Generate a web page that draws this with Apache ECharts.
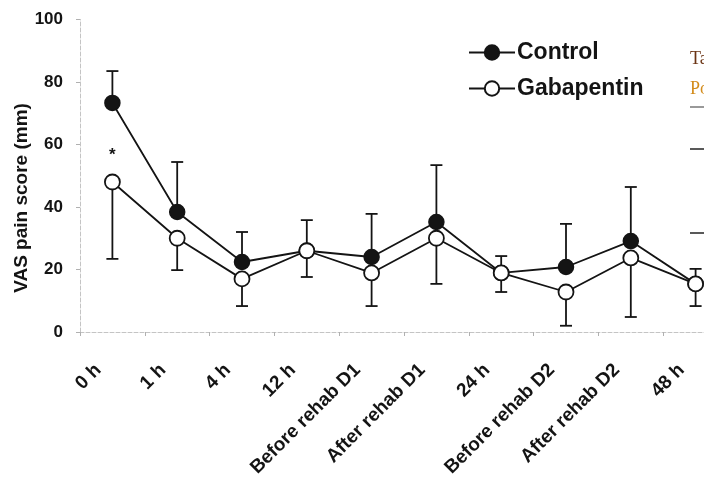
<!DOCTYPE html>
<html>
<head>
<meta charset="utf-8">
<script src="https://cdn.jsdelivr.net/npm/echarts@6/dist/echarts.min.js"></script>
<style>
  html, body { margin: 0; padding: 0; background: #fff; }
  #chart { width: 704px; height: 481px; }
</style>
</head>
<body>
<div id="chart"></div>
<script>
// Time points of VAS assessment
const categories = ['0 h', '1 h', '4 h', '12 h', 'Before rehab D1', 'After rehab D1',
                    '24 h', 'Before rehab D2', 'After rehab D2', '48 h'];

// Mean VAS pain score (mm)
const controlMean = [73.3, 38.4, 22.4, 26, 24, 35.2, 18.9, 20.8, 29.1, 15.4];
const gabapentinMean = [48, 30, 17, 26, 18.9, 30, 18.9, 12.8, 23.7, 15.4];

// Error bar ends: upper whisker for Control, lower whisker for Gabapentin
const controlUpper = [83.5, 54.4, 32, 35.8, 37.8, 53.4, 24.3, 34.6, 46.4, 20.2];
const gabapentinLower = [23.4, 19.8, 8.3, 17.6, 8.3, 15.4, 12.8, 2, 4.8, 8.3];

// Y axis ticks
const yTicks = [0, 20, 40, 60, 80, 100];

const INK = '#141414';
const FONT = '"Liberation Sans", Arial, sans-serif';

function whiskerData(mean, end) {
  return mean.map((m, i) => [i, m, end[i]]);
}

function renderWhisker(params, api) {
  const x = api.value(0);
  const p0 = api.coord([x, api.value(1)]);
  const p1 = api.coord([x, api.value(2)]);
  const half = 6;
  return {
    type: 'group',
    children: [
      { type: 'line', shape: { x1: p0[0], y1: p0[1], x2: p1[0], y2: p1[1] },
        style: { stroke: INK, lineWidth: 1.8 } },
      { type: 'line', shape: { x1: p1[0] - half, y1: p1[1], x2: p1[0] + half, y2: p1[1] },
        style: { stroke: INK, lineWidth: 1.8 } }
    ]
  };
}

const chart = echarts.init(document.getElementById('chart'), null, { renderer: 'canvas' });

const gabaData = gabapentinMean.map((v, i) => i === 0
  ? { value: v, label: { show: true, formatter: '*', position: 'top', distance: 10,
      fontSize: 17, fontWeight: 'bold', color: INK, fontFamily: FONT } }
  : v);

chart.setOption({
  animation: false,
  backgroundColor: '#fff',
  grid: { left: 80, top: 19.5, width: 648, height: 312.5, outerBoundsMode: 'none', containLabel: false },
  legend: {
    orient: 'vertical',
    left: 463,
    top: 36,
    itemWidth: 46,
    itemHeight: 18,
    itemGap: 13,
    textStyle: { fontSize: 23, fontWeight: 'bold', color: INK, fontFamily: FONT, padding: [0, 0, 0, -3] },
    data: ['Control', 'Gabapentin']
  },
  xAxis: {
    type: 'category',
    data: categories,
    boundaryGap: true,
    axisLine: { lineStyle: { color: '#c4c4c4', width: 1, type: 'dashed' } },
    axisTick: { show: true, length: 4, lineStyle: { color: '#b0b0b0' } },
    axisLabel: {
      interval: 0, rotate: 45, margin: 21,
      padding: [0, 20, 0, 0],
      fontSize: 19, fontWeight: 'bold', color: INK, fontFamily: FONT
    }
  },
  yAxis: {
    type: 'value',
    min: yTicks[0],
    max: yTicks[yTicks.length - 1],
    interval: yTicks[1] - yTicks[0],
    splitLine: { show: false },
    axisLine: { show: true, lineStyle: { color: '#c4c4c4', width: 1, type: 'dashed' } },
    axisTick: { show: true, length: 4, lineStyle: { color: '#b0b0b0' } },
    axisLabel: { margin: 17, fontSize: 17, fontWeight: 'bold', color: INK, fontFamily: FONT }
  },
  series: [
    {
      type: 'custom', name: 'Control SD', renderItem: renderWhisker,
      data: whiskerData(controlMean, controlUpper), z: 1, silent: true,
      encode: { x: 0, y: [1, 2] }
    },
    {
      type: 'custom', name: 'Gabapentin SD', renderItem: renderWhisker,
      data: whiskerData(gabapentinMean, gabapentinLower), z: 1, silent: true,
      encode: { x: 0, y: [1, 2] }
    },
    {
      name: 'Control', type: 'line', data: controlMean, z: 3,
      symbol: 'circle', symbolSize: 15,
      lineStyle: { color: INK, width: 1.8 },
      itemStyle: { color: INK, borderColor: INK, borderWidth: 1.5 }
    },
    {
      name: 'Gabapentin', type: 'line', data: gabaData, z: 4,
      symbol: 'circle', symbolSize: 15,
      lineStyle: { color: INK, width: 1.8 },
      itemStyle: { color: '#fff', borderColor: INK, borderWidth: 1.8 }
    }
  ],
  graphic: [
    {
      type: 'text', x: 22, y: 198, rotation: Math.PI / 2,
      style: { text: 'VAS pain score (mm)', fontSize: 19, fontWeight: 'bold',
               fontFamily: FONT, fill: INK, align: 'center', verticalAlign: 'middle' }
    },
    {
      type: 'text', x: 690, y: 50,
      style: { text: 'Ta', fontSize: 18, fontFamily: '"Liberation Serif", serif', fill: '#6b3414' }
    },
    {
      type: 'text', x: 690, y: 80,
      style: { text: 'Po', fontSize: 18, fontFamily: '"Liberation Serif", serif', fill: '#d38c1c' }
    },
    { type: 'line', shape: { x1: 690, y1: 107, x2: 704, y2: 107 }, style: { stroke: '#777', lineWidth: 1.5 } },
    { type: 'line', shape: { x1: 690, y1: 149, x2: 704, y2: 149 }, style: { stroke: '#222', lineWidth: 1.5 } },
    { type: 'line', shape: { x1: 690, y1: 233, x2: 704, y2: 233 }, style: { stroke: '#222', lineWidth: 1.5 } }
  ]
});
</script>
</body>
</html>
